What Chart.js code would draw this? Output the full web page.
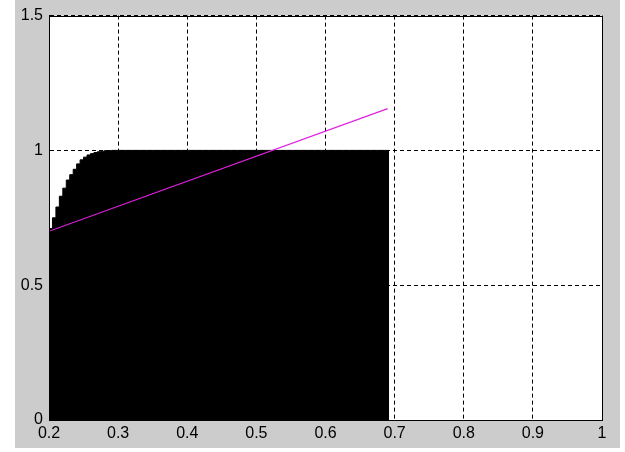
<!DOCTYPE html>
<html>
<head>
<meta charset="utf-8">
<script src="https://cdn.jsdelivr.net/npm/chart.js@4/dist/chart.umd.min.js"></script>
<style>
  html, body { margin: 0; padding: 0; background: #ffffff; }
  #wrap { width: 625px; height: 452px; }
</style>
</head>
<body>
<div id="wrap"><canvas id="grafico" width="625" height="452"></canvas></div>
<script>
// dados
const fillX = [0.2, 0.205, 0.21, 0.215, 0.22, 0.225, 0.23, 0.235, 0.24, 0.245,
  0.25, 0.255, 0.26, 0.265, 0.27, 0.275, 0.28, 0.29, 0.3, 0.692];
const fillY = [0.67, 0.71, 0.75, 0.79, 0.83, 0.86, 0.89, 0.91, 0.93, 0.95,
  0.965, 0.975, 0.983, 0.988, 0.992, 0.995, 0.997, 0.999, 1.0, 1.0];

const lineX = [0.2, 0.69];
const lineY = [0.70, 1.155];

const xTicks = [0.2, 0.3, 0.4, 0.5, 0.6, 0.7, 0.8, 0.9, 1];
const yTicks = [0, 0.5, 1, 1.5];

const fonteTicks = { family: "'Liberation Sans', Arial, sans-serif", size: 16 };

// caixa fechada em volta da area do grafico
const caixaPlugin = {
  id: "caixa",
  afterDraw(chart) {
    const { ctx, chartArea: a } = chart;
    ctx.save();
    ctx.strokeStyle = "#000";
    ctx.lineWidth = 1;
    ctx.setLineDash([]);
    ctx.strokeRect(Math.round(a.left) + 0.5, Math.round(a.top) + 0.5,
      Math.round(a.right - a.left), Math.round(a.bottom - a.top));
    ctx.restore();
  },
};

// fundo cinza da figura + area branca do grafico
const fundoPlugin = {
  id: "fundo",
  beforeDraw(chart) {
    const { ctx, chartArea: a } = chart;
    ctx.save();
    ctx.fillStyle = "#ffffff";
    ctx.fillRect(0, 0, chart.width, chart.height);
    ctx.fillStyle = "#cccccc";
    ctx.fillRect(15, 0, 605, 448);
    ctx.fillStyle = "#ffffff";
    ctx.fillRect(a.left, a.top, a.right - a.left, a.bottom - a.top);
    ctx.restore();
  },
};

const ctx = document.getElementById("grafico").getContext("2d");
new Chart(ctx, {
  type: "line",
  data: {
    datasets: [
      {
        data: fillX.map((x, i) => ({ x: x, y: fillY[i] })),
        borderColor: "#000",
        backgroundColor: "#000",
        borderWidth: 1,
        pointRadius: 0,
        stepped: "after",
        fill: "origin",
        order: 2,
      },
      {
        data: lineX.map((x, i) => ({ x: x, y: lineY[i] })),
        borderColor: "#e020e0",
        borderWidth: 1.2,
        pointRadius: 0,
        fill: false,
        order: 1,
      },
    ],
  },
  options: {
    responsive: false,
    animation: false,
    layout: { padding: { left: 0, right: 23, top: 15, bottom: 0 } },
    plugins: { legend: { display: false }, tooltip: { enabled: false } },
    scales: {
      x: {
        type: "linear",
        min: 0.2,
        max: 1,
        afterBuildTicks: (s) => { s.ticks = xTicks.map((v) => ({ value: v })); },
        afterFit: (s) => { s.height = 32; },
        ticks: {
          color: "#000",
          font: fonteTicks,
          padding: 4,
          maxRotation: 0,
          callback: (v) => String(Math.round(v * 10) / 10),
        },
        grid: { color: "#000", lineWidth: 1, drawTicks: false },
        border: { color: "#000", width: 1, dash: [4, 3] },
      },
      y: {
        min: 0,
        max: 1.5,
        afterBuildTicks: (s) => { s.ticks = yTicks.map((v) => ({ value: v })); },
        afterFit: (s) => { s.width = 49; },
        ticks: {
          color: "#000",
          font: fonteTicks,
          padding: 6,
          callback: (v) => String(v),
        },
        grid: { color: "#000", lineWidth: 1, drawTicks: false },
        border: { color: "#000", width: 1, dash: [4, 3] },
      },
    },
  },
  plugins: [fundoPlugin, caixaPlugin],
});
</script>
</body>
</html>
